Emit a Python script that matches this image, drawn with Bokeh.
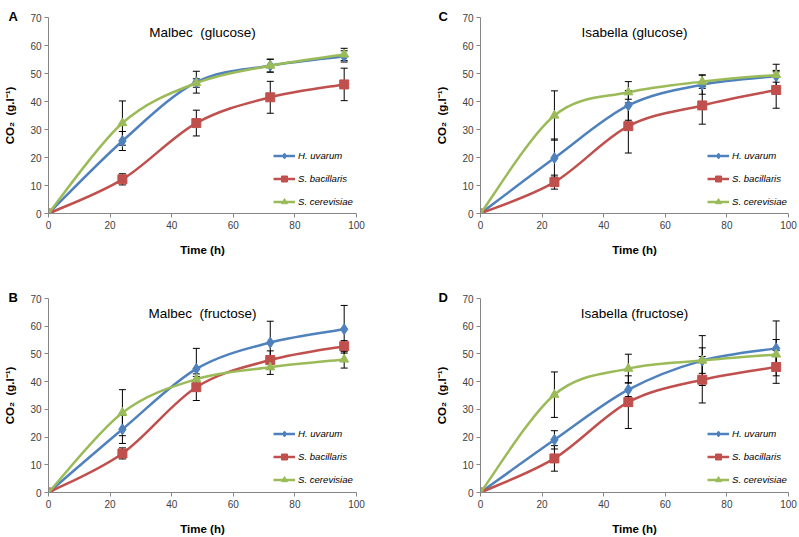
import numpy as np
from bokeh.plotting import figure
from bokeh.models import (Range1d, Whisker, ColumnDataSource, Label, Legend,
                          LegendItem, TeeHead, FixedTicker, Title)
from bokeh.layouts import column, row
from bokeh.embed import file_html
from bokeh.resources import INLINE

# ---------------- data ----------------
time_h = [0, 24, 48, 72, 96]
species = ["H. uvarum", "S. bacillaris", "S. cerevisiae"]
x_ticks = [0, 20, 40, 60, 80, 100]
y_ticks = [0, 10, 20, 30, 40, 50, 60, 70]

# A: Malbec (glucose)
malbec_glu_huv = [0, 25.9, 46.9, 52.8, 56.1]
malbec_glu_huv_sd = [0, 3.4, 3.9, 2.3, 2.0]
malbec_glu_sba = [0, 12.2, 32.3, 41.5, 46.1]
malbec_glu_sba_sd = [0, 2.0, 4.6, 5.7, 5.8]
malbec_glu_sce = [0, 32.3, 46.6, 52.8, 56.8]
malbec_glu_sce_sd = [0, 7.9, 1.5, 2.3, 2.2]

# B: Malbec (fructose)
malbec_fru_huv = [0, 22.8, 44.6, 54.1, 58.9]
malbec_fru_huv_sd = [0, 5.1, 7.4, 7.7, 8.6]
malbec_fru_sba = [0, 14.1, 38.0, 47.8, 52.8]
malbec_fru_sba_sd = [0, 2.0, 4.8, 3.3, 2.0]
malbec_fru_sce = [0, 28.8, 40.9, 45.2, 48.0]
malbec_fru_sce_sd = [0, 8.3, 1.0, 2.6, 3.1]

# C: Isabella (glucose)
isabella_glu_huv = [0, 19.8, 38.6, 46.0, 49.0]
isabella_glu_huv_sd = [0, 6.8, 5.3, 3.4, 2.1]
isabella_glu_sba = [0, 11.2, 31.2, 38.6, 44.1]
isabella_glu_sba_sd = [0, 2.5, 9.6, 6.7, 6.5]
isabella_glu_sce = [0, 35.0, 43.3, 47.1, 49.5]
isabella_glu_sce_sd = [0, 8.8, 3.8, 2.4, 3.8]

# D: Isabella (fructose)
isabella_fru_huv = [0, 19.0, 37.1, 47.6, 52.0]
isabella_fru_huv_sd = [0, 3.3, 2.5, 9.0, 9.9]
isabella_fru_sba = [0, 12.3, 32.6, 40.7, 45.3]
isabella_fru_sba_sd = [0, 4.6, 9.5, 8.4, 5.9]
isabella_fru_sce = [0, 35.3, 44.7, 47.6, 49.8]
isabella_fru_sce_sd = [0, 8.2, 5.2, 4.6, 5.4]

COLORS = ["#4F81BD", "#C0504D", "#9BBB59"]
MARKERS = ["diamond", "square", "triangle"]
MSIZES = [11, 9, 9]
FONT = "Liberation Sans"
NB = "\u00a0"


def smooth_segments(x, y):
    """Catmull-Rom -> cubic Bezier control points (Excel-like smoothed line)."""
    x = np.asarray(x, float)
    y = np.asarray(y, float)
    n = len(x)
    px = np.concatenate([[x[0]], x, [x[-1]]])
    py = np.concatenate([[y[0]], y, [y[-1]]])
    d = dict(x0=[], y0=[], x1=[], y1=[], cx0=[], cy0=[], cx1=[], cy1=[])
    for i in range(n - 1):
        p0x, p0y = px[i], py[i]
        p1x, p1y = px[i + 1], py[i + 1]
        p2x, p2y = px[i + 2], py[i + 2]
        p3x, p3y = px[i + 3], py[i + 3]
        d["x0"].append(p1x); d["y0"].append(p1y)
        d["x1"].append(p2x); d["y1"].append(p2y)
        d["cx0"].append(p1x + (p2x - p0x) / 6.0)
        d["cy0"].append(p1y + (p2y - p0y) / 6.0)
        d["cx1"].append(p2x - (p3x - p1x) / 6.0)
        d["cy1"].append(p2y - (p3y - p1y) / 6.0)
    return d


def letter_title(letter, offset):
    kw = dict(text=letter, align="left", offset=offset, text_font=FONT,
              text_font_size="13px", text_font_style="bold",
              text_color="black")
    try:
        return Title(standoff=-12, **kw)
    except Exception:
        return Title(standoff=0, **kw)


def make_panel(letter, letter_offset, title, series, width, height, mb_left,
               mb_right, mb_top, mb_bottom, legend_x, legend_y):
    p = figure(width=width, height=height, output_backend="svg",
               toolbar_location=None, x_range=Range1d(0, 100),
               y_range=Range1d(0, 70), min_border_left=mb_left,
               min_border_right=mb_right, min_border_top=mb_top,
               min_border_bottom=mb_bottom)
    p.outline_line_color = None
    p.xgrid.visible = False
    p.ygrid.visible = False
    p.background_fill_color = "white"
    p.border_fill_color = "white"

    # panel letter, drawn at the top-left corner of the frame
    p.title.visible = False
    p.add_layout(letter_title(letter, letter_offset), "above")

    for ax, ticks in ((p.xaxis[0], x_ticks), (p.yaxis[0], y_ticks)):
        ax.ticker = FixedTicker(ticks=ticks)
        ax.minor_tick_line_color = None
        ax.major_tick_in = 0
        ax.major_tick_out = 4
        ax.axis_line_color = "#868686"
        ax.major_tick_line_color = "#868686"
        ax.major_label_text_font = FONT
        ax.major_label_text_font_size = "10px"
        ax.major_label_text_color = "#404040"
        ax.major_label_standoff = 3
        ax.axis_label_text_font = FONT
        ax.axis_label_text_font_size = "11.5px"
        ax.axis_label_text_font_style = "bold"
        ax.axis_label_text_color = "black"
    p.xaxis.axis_label = "Time (h)"
    p.xaxis.axis_label_standoff = 12
    p.yaxis.axis_label = "CO\u2082" + NB + " (g.l\u207b\u00b9)"
    p.yaxis.axis_label_standoff = 11

    items = []
    for k, (vals, sd) in enumerate(series):
        col = COLORS[k]
        src_err = ColumnDataSource(dict(
            x=[t for t, e in zip(time_h, sd) if e > 0],
            upper=[v + e for v, e in zip(vals, sd) if e > 0],
            lower=[v - e for v, e in zip(vals, sd) if e > 0]))
        w = Whisker(source=src_err, base="x", upper="upper", lower="lower",
                    dimension="height", line_color="black", line_width=1,
                    upper_head=TeeHead(size=7, line_color="black", line_width=1),
                    lower_head=TeeHead(size=7, line_color="black", line_width=1))
        p.add_layout(w)
        seg = smooth_segments(time_h, vals)
        bz = p.bezier(x0="x0", y0="y0", x1="x1", y1="y1", cx0="cx0",
                      cy0="cy0", cx1="cx1", cy1="cy1",
                      source=ColumnDataSource(seg),
                      line_color=col, line_width=2.5)
        sc = p.scatter(x=time_h, y=vals, marker=MARKERS[k], size=MSIZES[k],
                       fill_color=col, line_color=col)
        items.append(LegendItem(label=species[k], renderers=[bz, sc]))

    legend = Legend(items=items, location=(legend_x, legend_y),
                    background_fill_alpha=0, border_line_color=None,
                    label_text_font=FONT, label_text_font_style="italic",
                    label_text_font_size="9.6px", label_text_color="black",
                    glyph_width=22, glyph_height=15, label_height=15,
                    label_width=72, label_standoff=3, spacing=8, padding=0,
                    margin=0)
    p.add_layout(legend, "center")

    p.add_layout(Label(x=50, y=64.6, text=title, text_font=FONT,
                       text_font_size="13.5px", text_align="center",
                       text_baseline="middle", text_color="black"))
    return p


pA = make_panel("A", -40, "Malbec" + NB + " (glucose)",
                [(malbec_glu_huv, malbec_glu_huv_sd),
                 (malbec_glu_sba, malbec_glu_sba_sd),
                 (malbec_glu_sce, malbec_glu_sce_sd)],
                400, 275, 48, 44, 17, 62, 225, 4)
pC = make_panel("C", -42, "Isabella (glucose)",
                [(isabella_glu_huv, isabella_glu_huv_sd),
                 (isabella_glu_sba, isabella_glu_sba_sd),
                 (isabella_glu_sce, isabella_glu_sce_sd)],
                399, 275, 80, 11, 17, 62, 227, 4)
pB = make_panel("B", -40, "Malbec" + NB + " (fructose)",
                [(malbec_fru_huv, malbec_fru_huv_sd),
                 (malbec_fru_sba, malbec_fru_sba_sd),
                 (malbec_fru_sce, malbec_fru_sce_sd)],
                400, 262, 48, 44, 22, 43, 225, 5)
pD = make_panel("D", -42, "Isabella (fructose)",
                [(isabella_fru_huv, isabella_fru_huv_sd),
                 (isabella_fru_sba, isabella_fru_sba_sd),
                 (isabella_fru_sce, isabella_fru_sce_sd)],
                399, 262, 80, 11, 23, 42, 227, 5)

layout = column(row(pA, pC), row(pB, pD))
open("out.html", "w").write(file_html(layout, INLINE))
